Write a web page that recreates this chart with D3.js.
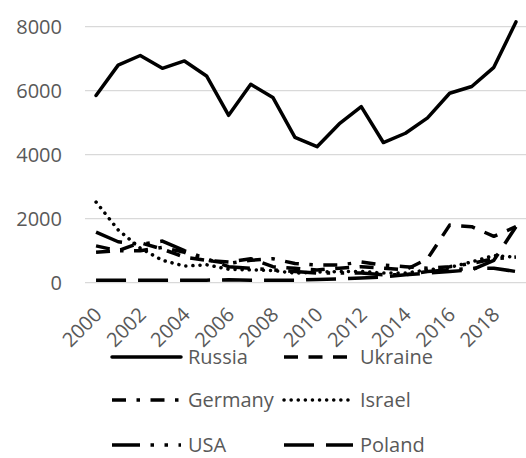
<!DOCTYPE html>
<html><head><meta charset="utf-8">
<script src="https://cdn.jsdelivr.net/npm/d3@7"></script>
<style>body{margin:0;background:#fff}svg{display:block}text{font-family:"Open Sans",sans-serif}</style>
</head><body><svg id="c" width="526" height="458"></svg>
<script>
const years = d3.range(2000, 2020);
const yTicks = [0, 2000, 4000, 6000, 8000];
const russia  = [5850,6800,7100,6700,6930,6460,5230,6200,5790,4540,4250,4960,5500,4380,4670,5150,5920,6130,6730,8150];
const ukraine = [950,1000,1250,1050,800,700,650,750,500,450,400,450,500,450,400,750,1800,1750,1450,1750];
const germany = [1150,1000,1000,1100,950,700,600,700,750,600,550,550,650,550,500,450,500,600,750,800];
const israel  = [2520,1650,1080,700,520,560,420,400,380,300,330,350,350,300,300,400,480,650,850,800];
const usa     = [1580,1280,1200,1300,1000,750,500,450,400,350,300,300,300,250,250,350,400,450,450,350];
const poland  = [80,80,80,80,80,80,90,80,80,80,100,120,150,180,250,300,350,400,700,1750];
const names = ["Russia","Ukraine","Germany","Israel","USA","Poland"];
const seriesData = [russia, ukraine, germany, israel, usa, poland];
const dashes = [null, "14,10.5", "14,10.5,3.5,10.5", "0.1,7", "28,10.5,3.5,10.5,3.5,10.5", "30,12"];
const caps = ["round","butt","butt","round","butt","butt"];

const svg = d3.select("#c");
const x = d3.scaleBand().domain(years).range([85, 527]);
const y = d3.scaleLinear().domain([0, 8000]).range([282.7, 26.7]);
const xc = d => x(d) + x.bandwidth() / 2;

// gridlines
svg.append("g").selectAll("line").data(yTicks).join("line")
  .attr("x1", 85).attr("x2", 526).attr("y1", d => y(d)).attr("y2", d => y(d))
  .attr("stroke", "#d9d9d9").attr("stroke-width", 1.3);

// y axis labels
const yAxis = d3.axisLeft(y).tickValues(yTicks).tickSize(0).tickPadding(0).tickFormat(d3.format("d"));
const gy = svg.append("g").attr("transform", "translate(62,0)").call(yAxis);
gy.select(".domain").remove();
gy.selectAll("text").attr("font-size", 20).attr("fill", "#595959").attr("font-family", "Open Sans");

// x axis labels
const xAxis = d3.axisBottom(x).tickValues(years.filter(v => v % 2 === 0)).tickSize(0).tickPadding(0);
const gx = svg.append("g").attr("transform", "translate(0,284)").call(xAxis);
gx.select(".domain").remove();
gx.selectAll("text").attr("font-size", 20).attr("fill", "#595959").attr("font-family", "Open Sans")
  .attr("text-anchor", "end").attr("dy", 0)
  .attr("transform", "translate(7,32) rotate(-45)");

// lines
const line = d3.line().x((d, i) => xc(years[i])).y(d => y(d));
seriesData.forEach((s, k) => {
  svg.append("path").datum(s).attr("d", line).attr("fill", "none")
    .attr("stroke", "#000").attr("stroke-width", 3.5)
    .attr("stroke-linejoin", "round").attr("stroke-linecap", caps[k])
    .attr("stroke-dasharray", dashes[k]);
});

// legend
const lg = svg.append("g");
const colX = [112, 284], rowY = [357, 400, 445];
names.forEach((n, k) => {
  const cx = colX[k % 2], cy = rowY[Math.floor(k / 2)];
  lg.append("line").attr("x1", cx).attr("x2", cx + 69).attr("y1", cy).attr("y2", cy)
    .attr("stroke", "#000").attr("stroke-width", 3.5).attr("stroke-linecap", caps[k])
    .attr("stroke-dasharray", dashes[k]);
  lg.append("text").attr("x", cx + 76).attr("y", cy).attr("dy", "0.35em")
    .attr("font-size", 20).attr("fill", "#595959").text(n);
});
</script></body></html>
